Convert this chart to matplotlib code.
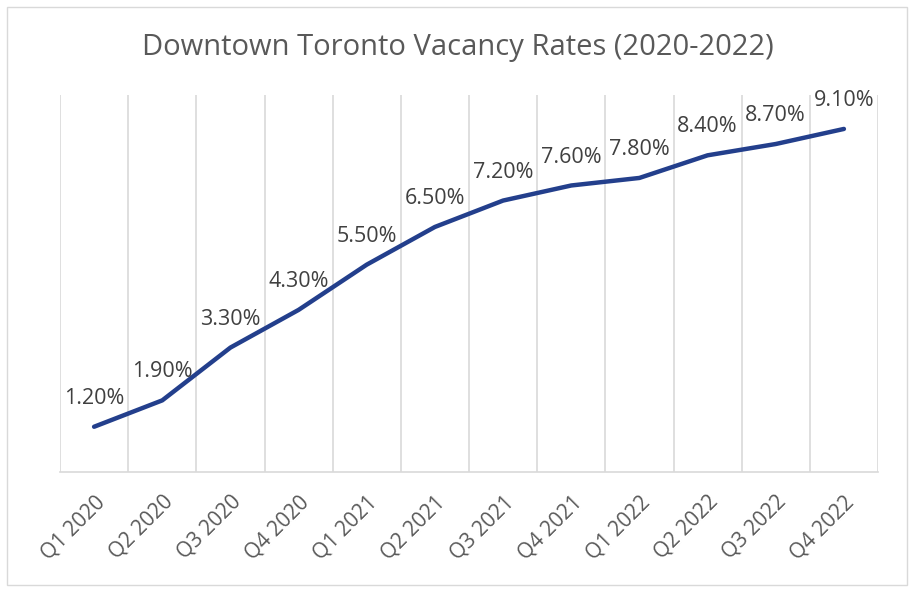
import matplotlib.pyplot as plt
from matplotlib.patches import Rectangle

quarters = ["Q1 2020", "Q2 2020", "Q3 2020", "Q4 2020",
            "Q1 2021", "Q2 2021", "Q3 2021", "Q4 2021",
            "Q1 2022", "Q2 2022", "Q3 2022", "Q4 2022"]
rates = [1.2, 1.9, 3.3, 4.3, 5.5, 6.5, 7.2, 7.6, 7.8, 8.4, 8.7, 9.1]

plt.rcParams['font.family'] = ['Open Sans', 'DejaVu Sans']

W, H = 917, 596
fig = plt.figure(figsize=(W / 100, H / 100), dpi=100)
ax = fig.add_axes([60 / W, 1 - 472 / H, (878 - 60) / W, (472 - 95) / H])

x = list(range(len(quarters)))
ax.plot(x, rates, color="#233F8C", lw=3.2, solid_capstyle="round", zorder=3)

for xi, r in zip(x, rates):
    ax.annotate(f"{r:.2f}%", (xi, r), xytext=(0, 16.5), textcoords="offset points",
                ha="center", va="baseline", fontsize=15.5, color="#404040")

ax.set_xlim(-0.5, len(quarters) - 0.5)
ax.set_ylim(0, 10)
ax.set_yticks([])
ax.set_xticks(x)
ax.set_xticklabels(quarters, rotation=45, ha="right", va="top",
                   rotation_mode="anchor", fontsize=15, color="#595959")
ax.tick_params(axis="x", length=0, pad=14)
for b in range(len(quarters) + 1):
    ax.axvline(b - 0.5, color="#D9D9D9", lw=1.2, zorder=1)
for s in ["top", "right", "left"]:
    ax.spines[s].set_visible(False)
ax.spines["bottom"].set_color("#D9D9D9")
ax.spines["bottom"].set_linewidth(1.2)

fig.text(458 / W, 1 - 47 / H, "Downtown Toronto Vacancy Rates (2020-2022)",
         ha="center", va="center", fontsize=21, color="#595959")

fig.patches.append(Rectangle((7 / W, 1 - 585 / H), (907 - 7) / W, (585 - 7) / H,
                             transform=fig.transFigure, fill=False,
                             edgecolor="#D9D9D9", lw=1))

fig.savefig("out.png", dpi=100)
